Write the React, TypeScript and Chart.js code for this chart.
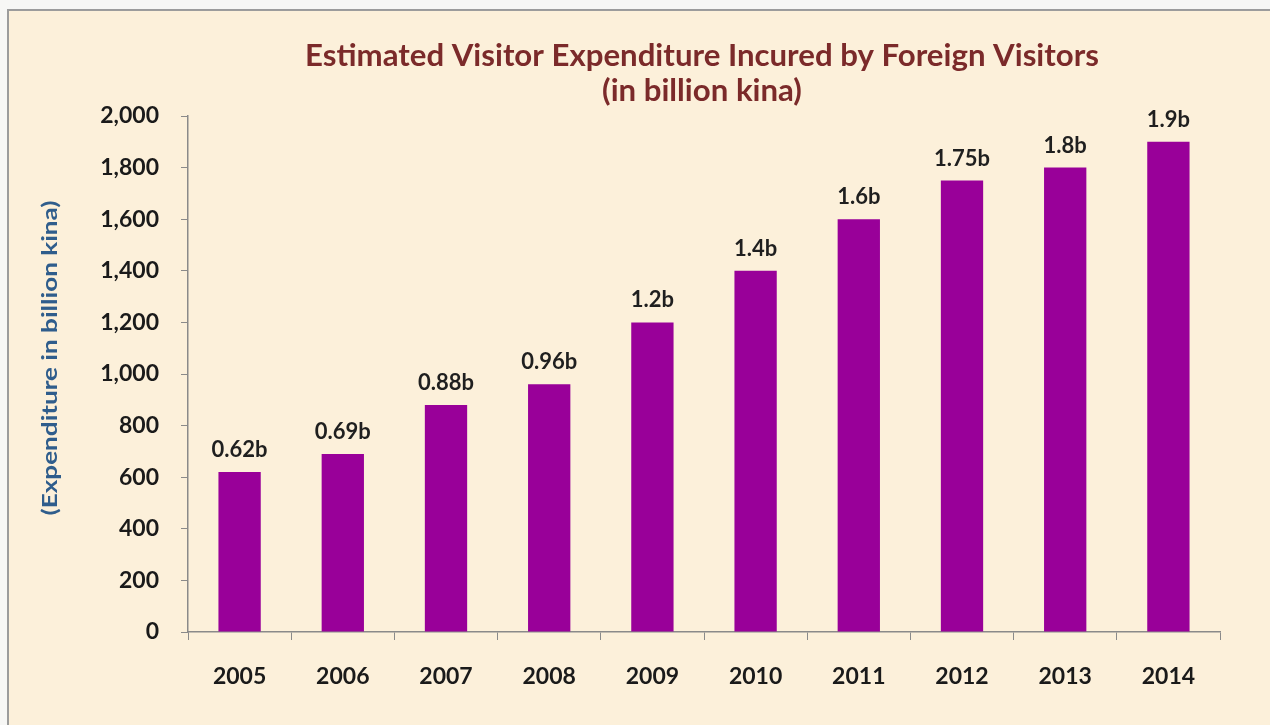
import React, { useEffect, useRef } from "react";
import { Chart, registerables } from "chart.js";

Chart.register(...registerables);

const years = ["2005", "2006", "2007", "2008", "2009", "2010", "2011", "2012", "2013", "2014"];
const expenditure = [620, 690, 880, 960, 1200, 1400, 1600, 1750, 1800, 1900];
const valueLabels = ["0.62b", "0.69b", "0.88b", "0.96b", "1.2b", "1.4b", "1.6b", "1.75b", "1.8b", "1.9b"];
const titleLines = ["Estimated Visitor Expenditure Incured by Foreign Visitors", "(in billion kina)"];
const yAxisTitle = "(Expenditure in billion kina)";

const FONT = "Lato, 'Open Sans', sans-serif";

const decorPlugin = {
  id: "decor",
  beforeDraw(chart: any) {
    const { ctx, width, height } = chart;
    ctx.save();
    ctx.fillStyle = "#f7f7f5";
    ctx.fillRect(0, 0, width, height);
    ctx.fillStyle = "#fcf0da";
    ctx.fillRect(8, 10, width, height);
    ctx.strokeStyle = "#9c9c9c";
    ctx.lineWidth = 2;
    ctx.beginPath();
    ctx.moveTo(8, height + 5);
    ctx.lineTo(8, 10);
    ctx.lineTo(width + 5, 10);
    ctx.stroke();
    ctx.restore();
  },
  afterDraw(chart: any) {
    const { ctx } = chart;
    ctx.save();
    // Title
    ctx.fillStyle = "#7b2a2a";
    ctx.textAlign = "center";
    ctx.textBaseline = "middle";
    ctx.font = `bold 23px ${FONT}`;
    const w = ctx.measureText(titleLines[0]).width;
    const size = 23 * (793 / w);
    ctx.font = `bold ${size.toFixed(1)}px ${FONT}`;
    ctx.fillText(titleLines[0], 702, 56);
    ctx.fillText(titleLines[1], 702, 91);
    // Y axis title
    ctx.translate(50, 358);
    ctx.rotate(-Math.PI / 2);
    ctx.fillStyle = "#2f5d8c";
    ctx.font = `bold 21px ${FONT}`;
    const tw = ctx.measureText(yAxisTitle).width;
    ctx.scale(315 / tw, 1);
    ctx.fillText(yAxisTitle, 0, 0);
    ctx.restore();
  },
};

const valueLabelPlugin = {
  id: "valueLabels",
  afterDatasetsDraw(chart: any) {
    const { ctx } = chart;
    const meta = chart.getDatasetMeta(0);
    ctx.save();
    ctx.fillStyle = "#1f1f1f";
    ctx.font = `bold 22px ${FONT}`;
    ctx.textAlign = "center";
    ctx.textBaseline = "bottom";
    meta.data.forEach((bar: any, i: number) => {
      ctx.fillText(valueLabels[i], bar.x, bar.y - 11);
    });
    ctx.restore();
  },
};

export default function App() {
  const canvasRef = useRef<HTMLCanvasElement | null>(null);

  useEffect(() => {
    if (!canvasRef.current) return;
    const chart = new Chart(canvasRef.current, {
      type: "bar",
      data: {
        labels: years,
        datasets: [
          {
            data: expenditure,
            backgroundColor: "#990099",
            borderWidth: 0,
            barPercentage: 0.41,
            categoryPercentage: 1,
          },
        ],
      },
      options: {
        animation: false,
        responsive: true,
        maintainAspectRatio: false,
        layout: { padding: { top: 116, right: 50, left: 0, bottom: 0 } },
        plugins: {
          legend: { display: false },
          tooltip: { enabled: false },
          title: { display: false },
        },
        scales: {
          x: {
            afterFit: (scale: any) => {
              scale.height = 93;
            },
            grid: {
              display: true,
              drawOnChartArea: false,
              drawTicks: true,
              tickLength: 8,
              color: "#8a8a8a",
              offset: true,
            },
            border: { display: true, color: "#8a8a8a", width: 1.5 },
            ticks: {
              color: "#1a1a1a",
              font: { family: FONT, size: 23, weight: "bold" },
              padding: 23,
            },
          },
          y: {
            min: 0,
            max: 2000,
            afterFit: (scale: any) => {
              scale.width = 188;
            },
            grid: {
              display: true,
              drawOnChartArea: false,
              drawTicks: true,
              tickLength: 7,
              color: "#8a8a8a",
            },
            border: { display: true, color: "#8a8a8a", width: 1.5 },
            ticks: {
              stepSize: 200,
              color: "#1a1a1a",
              font: { family: FONT, size: 23, weight: "bold" },
              padding: 22,
              callback: (v: any) => Number(v).toLocaleString("en-US"),
            },
          },
        },
      },
      plugins: [decorPlugin, valueLabelPlugin],
    } as any);
    return () => chart.destroy();
  }, []);

  return (
    <div style={{ position: "fixed", left: 0, top: 0, width: 1270, height: 725 }}>
      <canvas ref={canvasRef} />
    </div>
  );
}
